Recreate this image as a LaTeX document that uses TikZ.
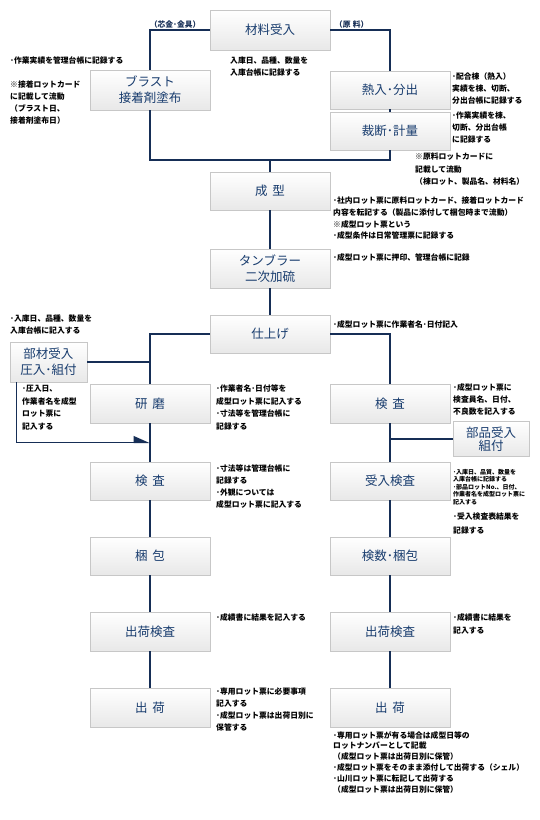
\documentclass[tikz,border=0pt]{standalone}
\usepackage{fontspec}
\setmainfont{Noto Sans CJK JP}
\usepackage{tikz}
\usetikzlibrary{positioning, arrows.meta, calc}

\definecolor{navy}{RGB}{22,46,86}
\definecolor{boxtext}{RGB}{24,60,110}

\begin{document}
\begin{tikzpicture}[
        x=1pt, y=-1pt,
        proc/.style={draw=black!22, top color=white, bottom color=black!9, minimum width=120pt, minimum height=38pt, inner sep=0pt, align=center, text=boxtext, font=\fontsize{12.5}{16}\selectfont},
        memo/.style={anchor=north west, inner sep=0pt, align=left, font=\fontsize{7.8}{12}\selectfont\bfseries},
        lbl/.style={inner sep=1.5pt, font=\fontsize{7.8}{10}\selectfont\bfseries},
        flow/.style={navy, line width=1.3pt},
        tip/.style={-{Triangle[harpoon, length=15pt, width=13pt]}},
    ]
    \fill[white] (0,0) rectangle (540,820);
    \useasboundingbox (0,0) rectangle (540,820);

    % Receiving and preparation
    \node[proc, minimum height=40pt] (mat) at (270,30) {材料受入};
    \node[proc, minimum height=40pt] (blast) at (150,90) {ブラスト\\接着剤塗布};
    \node[proc] (netsu) at (390,90) {熱入･分出};
    \node[proc] (saidan) at (390,131) {裁断･計量};

    % Main line
    \node[proc] (seikei) at (270,191) {成\hspace{.4em}型};
    \node[proc, minimum height=39pt] (tumbler) at (270,268.5) {タンブラー\\二次加硫};
    \node[proc] (shiage) at (270,334) {仕上げ};

    % Left branch
    \node[proc, minimum width=77pt, minimum height=40pt] (buzai) at (48.5,362) {部材受入\\圧入･組付};
    \node[proc, minimum height=39pt] (kenma) at (150,403.5) {研\hspace{.4em}磨};
    \node[proc] (kensaL) at (150,481) {検\hspace{.4em}査};
    \node[proc] (konpo) at (150,556) {梱\hspace{.4em}包};
    \node[proc, minimum height=39pt] (shukkenL) at (150,631.5) {出荷検査};
    \node[proc, minimum height=39pt] (shukkaL) at (150,707.5) {出\hspace{.4em}荷};

    % Right branch
    \node[proc, minimum height=39pt] (kensaR) at (390,403.5) {検\hspace{.4em}査};
    \node[proc, minimum width=76pt, minimum height=35pt, font=\fontsize{12.5}{13.5}\selectfont] (buhin) at (491,439) {部品受入\\組付};
    \node[proc] (ukeire) at (390,481) {受入検査};
    \node[proc] (kensu) at (390,556) {検数･梱包};
    \node[proc, minimum height=39pt] (shukkenR) at (390,631.5) {出荷検査};
    \node[proc, minimum height=39pt] (shukkaR) at (390,707.5) {出\hspace{.4em}荷};

    % Connectors
    \coordinate (join) at (270,160);
    \coordinate (merge) at ($(kenma.south)!0.5!(kensaL.north)$);
    \draw[flow] (mat.west) -| node[lbl, above, pos=0.29] {（芯金･金具）} (blast.north);
    \draw[flow] (mat.east) -| node[lbl, above, pos=0.18] {（原\hspace{.3em}料）} (netsu.north);
    \draw[flow] (netsu.south) -- (saidan.north);
    \draw[flow] (blast.south) |- (join) -| (saidan.south);
    \draw[flow] (join) -- (seikei.north);
    \draw[flow] (seikei) -- (tumbler);
    \draw[flow] (tumbler) -- (shiage);
    \draw[flow] (shiage.west) -| (kenma.north);
    \draw[flow] (shiage.east) -| (kensaR.north);
    \draw[flow] (buzai.east) -- (buzai.east -| kenma.north);
    \draw[flow, tip] ($(buzai.south west)+(7,0)$) |- (merge);
    \draw[flow] (kenma) -- (kensaL);
    \draw[flow] (kensaL) -- (konpo);
    \draw[flow] (konpo) -- (shukkenL);
    \draw[flow] (shukkenL) -- (shukkaL);
    \draw[flow] (kensaR) -- (ukeire);
    \draw[flow] (buhin.west) -- (buhin.west -| kensaR.south);
    \draw[flow] (ukeire) -- (kensu);
    \draw[flow] (kensu) -- (shukkenR);
    \draw[flow] (shukkenR) -- (shukkaR);

    % Notes
    \node[memo] (nA) at (10,57) {･作業実績を管理台帳に記録する};
    \node[memo] (nB) at (10,81) {※接着ロットカード\\に記載して流動\\（ブラスト日、\\接着剤塗布日）};
    \node[memo] (nMat) at (230,57) {入庫日、品種、数量を\\入庫台帳に記録する};
    \node[memo] (nNetsu) at (452,73) {･配合棟（熱入）\\実績を棟、切断、\\分出台帳に記録する};
    \node[memo] (nSaidan) at (452,112) {･作業実績を棟、\\切断、分出台帳\\に記録する};
    \node[memo, font=\fontsize{7.8}{12.5}\selectfont\bfseries] (nGenryo) at (415,153) {※原料ロットカードに\\記載して流動\\（棟ロット、製品名、材料名）};
    \node[memo, font=\fontsize{7.8}{11.7}\selectfont\bfseries] (nSeikei) at (333,197) {･社内ロット票に原料ロットカード、接着ロットカード\\内容を転記する（製品に添付して梱包時まで流動）\\※成型ロット票という\\･成型条件は日常管理票に記録する};
    \node[memo] (nTumbler) at (333,253) {･成型ロット票に押印、管理台帳に記録};
    \node[memo] (nBuzaiA) at (10,315) {･入庫日、品種、数量を\\入庫台帳に記入する};
    \node[memo] (nShiage) at (333,320) {･成型ロット票に作業者名･日付記入};
    \node[memo, font=\fontsize{7.8}{12.5}\selectfont\bfseries] (nBuzaiB) at (22,385) {･圧入日、\\作業者名を成型\\ロット票に\\記入する};
    \node[memo, font=\fontsize{7.8}{12.5}\selectfont\bfseries] (nKenma) at (216,385) {･作業者名･日付等を\\成型ロット票に記入する\\･寸法等を管理台帳に\\記録する};
    \node[memo] (nKensaR) at (453,383) {･成型ロット票に\\検査員名、日付、\\不良数を記入する};
    \node[memo, font=\fontsize{7.8}{11.7}\selectfont\bfseries] (nKensaL) at (216,465) {･寸法等は管理台帳に\\記録する\\･外観については\\成型ロット票に記入する};
    \node[memo, font=\fontsize{6}{7.5}\selectfont\bfseries] (nBuhin) at (453,469) {･入庫日、品質、数量を\\入庫台帳に記録する\\･部品ロットNo.、日付、\\作業者名を成型ロット票に\\記入する};
    \node[memo, font=\fontsize{7.8}{14}\selectfont\bfseries] (nUkeire) at (453,513) {･受入検査表結果を\\記録する};
    \node[memo] (nShukkenL) at (216,613) {･成績書に結果を記入する};
    \node[memo, font=\fontsize{7.8}{13}\selectfont\bfseries] (nShukkenR) at (453,613) {･成績書に結果を\\記入する};
    \node[memo] (nShukkaL) at (216,688) {･専用ロット票に必要事項\\記入する\\･成型ロット票は出荷日別に\\保管する};
    \node[memo, font=\fontsize{7.8}{10.8}\selectfont\bfseries] (nShukkaR) at (333,731) {･専用ロット票が有る場合は成型日等の\\ロットナンバーとして記載\\（成型ロット票は出荷日別に保管）\\･成型ロット票をそのまま添付して出荷する（シェル）\\･山川ロット票に転記して出荷する\\（成型ロット票は出荷日別に保管）};
\end{tikzpicture}
\end{document}
